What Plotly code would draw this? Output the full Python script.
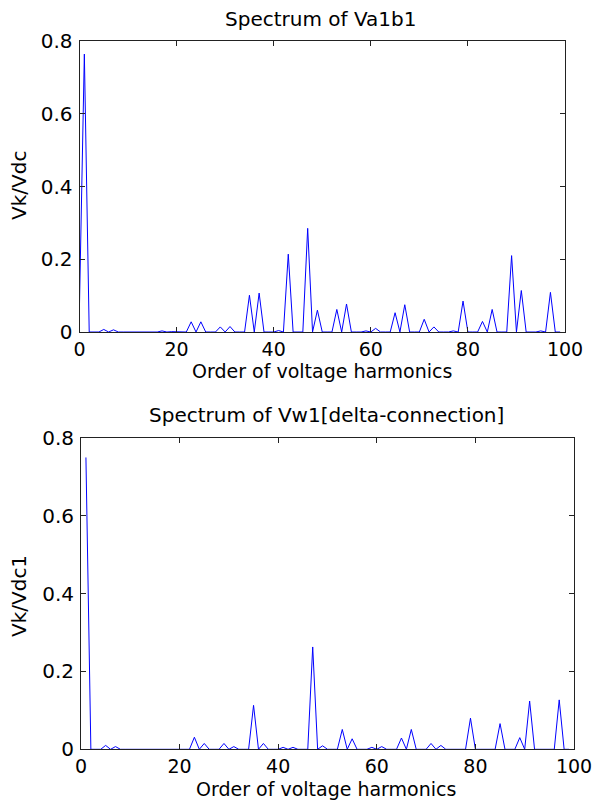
import plotly.graph_objects as go

# Harmonic spectrum of the line voltage Va1b1 (normalised to Vdc)
va_orders = [0, 1, 5, 7, 11, 13, 17, 19, 23, 25, 29, 31, 35, 37, 41, 43, 47, 49,
             53, 55, 59, 61, 65, 67, 71, 73, 77, 79, 83, 85, 89, 91, 95, 97]
va_amps = [0.077, 0.764, 0.007, 0.006, 0.001, 0.001, 0.003, 0.001, 0.028, 0.028,
           0.014, 0.015, 0.101, 0.107, 0.004, 0.214, 0.285, 0.060, 0.062, 0.077,
           0.003, 0.010, 0.053, 0.075, 0.035, 0.014, 0.003, 0.085, 0.029, 0.062,
           0.210, 0.114, 0.003, 0.109]

# Harmonic spectrum of the winding voltage Vw1, delta connection (normalised to Vdc1)
vw_orders = [1, 5, 7, 23, 25, 29, 31, 35, 37, 41, 43, 47, 49, 53, 55, 59, 61,
             65, 67, 71, 73, 79, 85, 89, 91, 97]
vw_amps = [0.750, 0.010, 0.007, 0.031, 0.015, 0.015, 0.007, 0.113, 0.015, 0.005,
           0.005, 0.263, 0.009, 0.051, 0.027, 0.005, 0.007, 0.029, 0.051, 0.015,
           0.010, 0.080, 0.066, 0.030, 0.124, 0.127]

x_ticks = [0, 20, 40, 60, 80, 100]
y_ticks = [0, 0.2, 0.4, 0.6, 0.8]


def full_spectrum(start, stop, orders, amps):
    lookup = dict(zip(orders, amps))
    ks = list(range(start, stop + 1))
    return ks, [lookup.get(k, 0.0) for k in ks]


ka, ya = full_spectrum(0, 99, va_orders, va_amps)
kw, yw = full_spectrum(1, 99, vw_orders, vw_amps)

W, H = 594, 800
FONT = "DejaVu Sans"
LINE = "#0000ff"

fig = go.Figure()
fig.add_trace(go.Scatter(x=ka, y=ya, mode="lines", line=dict(color=LINE, width=1),
                         xaxis="x", yaxis="y", showlegend=False))
fig.add_trace(go.Scatter(x=kw, y=yw, mode="lines", line=dict(color=LINE, width=1),
                         xaxis="x2", yaxis="y2", showlegend=False))


def xaxis(domain, anchor):
    return dict(domain=domain, anchor=anchor, range=[0, 100], tickvals=x_ticks,
                ticktext=[str(v) for v in x_ticks], ticks="inside", ticklen=5,
                tickcolor="#222", showline=True, linecolor="#222", linewidth=1,
                mirror="ticks", showgrid=False, zeroline=False,
                tickfont=dict(family=FONT, size=19, color="black"),
                ticklabelstandoff=0, automargin=False, fixedrange=True)


def yaxis(domain, anchor):
    return dict(domain=domain, anchor=anchor, range=[0, 0.8], tickvals=y_ticks,
                ticktext=["0", "0.2", "0.4", "0.6", "0.8"], ticks="inside", ticklen=5,
                tickcolor="#222", showline=True, linecolor="#222", linewidth=1,
                mirror="ticks", showgrid=False, zeroline=False,
                tickfont=dict(family=FONT, size=20, color="black"),
                ticklabelstandoff=2, automargin=False, fixedrange=True)


def px_x(p):
    return p / W


def px_y(p):
    return 1 - p / H


fig.update_layout(
    width=W, height=H,
    margin=dict(l=0, r=0, t=0, b=0),
    paper_bgcolor="white", plot_bgcolor="white",
    xaxis=xaxis([px_x(79.5), px_x(565)], "y"),
    yaxis=yaxis([px_y(332), px_y(41)], "x"),
    xaxis2=xaxis([px_x(81), px_x(574)], "y2"),
    yaxis2=yaxis([px_y(749.3), px_y(438)], "x2"),
)

labels = [
    ("Spectrum of Va1b1", 320, 19, 0, 20),
    ("Order of voltage harmonics", 322, 371, 0, 19),
    ("Vk/Vdc", 19, 186, -90, 20),
    ("Spectrum of Vw1[delta-connection]", 326, 415, 0, 20),
    ("Order of voltage harmonics", 326, 789, 0, 19),
    ("Vk/Vdc1", 19, 596, -90, 20),
]
for text, cx, cy, rot, size in labels:
    fig.add_annotation(text=text, x=px_x(cx), y=px_y(cy), xref="paper", yref="paper",
                       xanchor="center", yanchor="middle", showarrow=False,
                       textangle=rot, font=dict(family=FONT, size=size, color="black"))

fig.write_html("out.html")
